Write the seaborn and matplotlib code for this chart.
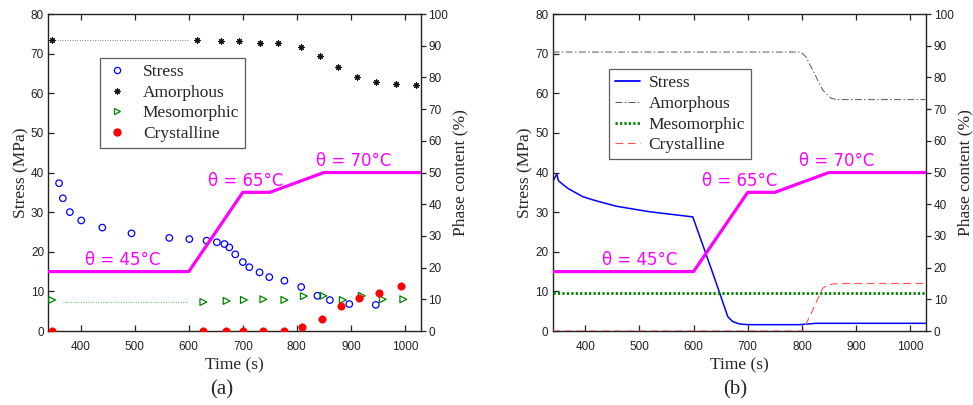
import numpy as np
import pandas as pd
import seaborn as sns
import matplotlib.pyplot as plt
from matplotlib.lines import Line2D

sns.set_style("white")
plt.rcParams['font.family'] = ['Liberation Sans', 'DejaVu Sans']

# ---------------- data: (a) measurements ----------------
stress_t = [360, 367, 380, 401, 440, 494, 564, 601, 633, 652, 666, 675, 686, 700, 712,
            731, 749, 777, 808, 838, 861, 897, 946]
stress_v = [37.3, 33.5, 30.0, 27.9, 26.1, 24.65, 23.5, 23.2, 22.8, 22.4, 21.95, 21.1, 19.35,
            17.4, 16.1, 14.8, 13.6, 12.7, 11.1, 8.9, 7.8, 6.8, 6.6]

amorph_t = [346, 616, 659, 693, 731, 766, 807, 843, 876, 911, 947, 984, 1021]
amorph_v = [91.8, 91.8, 91.5, 91.5, 91.0, 91.0, 89.5, 86.9, 83.4, 80.1, 78.6, 78.0, 77.6]

meso_t = [347, 627, 670, 702, 738, 777, 813, 849, 885, 920, 959, 997]
meso_v = [9.8, 9.15, 9.5, 9.8, 10.0, 9.8, 11.0, 11.1, 9.8, 11.1, 10.0, 10.0]

cryst_t = [347, 626, 669, 701, 738, 776, 809, 846, 881, 915, 952, 992]
cryst_v = [0.1, 0.0, 0.0, 0.0, 0.0, 0.0, 1.4, 3.7, 7.9, 10.3, 12.1, 14.2]

# dotted guides across the unmeasured interval
amorph_gap_t = [346, 598]
amorph_gap_v = [91.8, 91.8]
meso_gap_t = [367, 597]
meso_gap_v = [9.05, 9.05]

# ---------------- data: (b) model ----------------
model_stress_t = [340, 347.6, 350.8, 368, 395.6, 414, 457, 518.7, 598.6, 635.5, 663.3,
                  672.5, 685, 700, 795.6, 826, 1028]
model_stress_v = [37.7, 39.6, 37.9, 36.0, 33.9, 33.1, 31.5, 30.1, 28.8, 14.6, 3.6,
                  2.35, 1.77, 1.6, 1.6, 1.94, 1.94]
model_amorph_t = [340, 798, 807.5, 822.8, 838.3, 853.7, 865, 1028]
model_amorph_v = [88.0, 88.0, 86.5, 81.3, 76.0, 73.4, 73.0, 73.0]
model_meso_t = [340, 1028]
model_meso_v = [12.0, 12.0]
model_cryst_t = [340, 801.4, 819.9, 838.3, 848, 856.8, 870, 1028]
model_cryst_v = [0.0, 0.0, 6.6, 13.5, 14.5, 14.8, 15.0, 15.0]

# ---------------- temperature programme ----------------
temp_t = [340, 600, 700, 750, 850, 1030]
temp_v = [45, 45, 65, 65, 70, 70]
temp_labels_a = [(478, 45, "θ = 45°C"), (706, 65, "θ = 65°C"), (905, 70, "θ = 70°C")]
temp_labels_b = [(500, 45, "θ = 45°C"), (685, 65, "θ = 65°C"), (865, 70, "θ = 70°C")]

SERIF = ['Liberation Serif', 'DejaVu Serif']
MAGENTA = '#FF00FF'
BLUE = '#0000FF'
GREEN = '#008000'
RED = '#FF0000'
LABEL_SIZE = 12.5
TICK_SIZE = 8.5

fig = plt.figure(figsize=(9.73, 4.05), dpi=100)
ax_a = fig.add_axes([0.0496, 0.1827, 0.3827, 0.7827])
ax_b = fig.add_axes([0.5680, 0.1827, 0.3837, 0.7827])


def style_axes(ax):
    ax.set_xlim(340, 1029)
    ax.set_ylim(0, 80)
    ax.set_xticks(range(400, 1001, 100))
    ax.set_yticks(range(0, 81, 10))
    ax.tick_params(direction='in', length=4, width=0.9, labelsize=TICK_SIZE,
                   top=True, right=True, left=True, bottom=True, pad=3,
                   colors='#222222')
    ax.tick_params(axis='x', pad=7)
    for s in ax.spines.values():
        s.set_color('#222222')
        s.set_linewidth(1.0)
    ax.set_xlabel("Time (s)", family=SERIF, fontsize=LABEL_SIZE, labelpad=3)
    ax.set_ylabel("Stress (MPa)", family=SERIF, fontsize=LABEL_SIZE, labelpad=1)
    ph = ax.twinx()
    ph.set_ylim(0, 100)
    ph.set_yticks(range(0, 101, 10))
    ph.tick_params(direction='out', length=3.5, width=0.9, labelsize=TICK_SIZE, pad=2,
                   colors='#222222')
    ph.set_ylabel("Phase content (%)", family=SERIF, fontsize=LABEL_SIZE, labelpad=3)
    for s in ph.spines.values():
        s.set_visible(False)
    th = ax.twinx()
    th.set_ylim(30, 110)
    th.set_axis_off()
    return ph, th


def draw_temperature(th, labels):
    sns.lineplot(x=temp_t, y=temp_v, ax=th, color=MAGENTA, linewidth=2.3,
                 estimator=None, sort=False)
    for t, v, txt in labels:
        th.text(t, v + 0.7, txt, color=MAGENTA, fontsize=12, ha='center', va='bottom',
                family=['DejaVu Sans'])


# ---------------- (a) ----------------
ph_a, th_a = style_axes(ax_a)
sns.scatterplot(x=stress_t, y=stress_v, ax=ax_a, marker='o', s=22,
                facecolors='none', edgecolor=BLUE, linewidth=0.9, zorder=3)
sns.lineplot(x=amorph_gap_t, y=amorph_gap_v, ax=ph_a, color='#555555',
             linestyle=(0, (1, 2)), linewidth=0.6, estimator=None)
sns.lineplot(x=meso_gap_t, y=meso_gap_v, ax=ph_a, color='#22aa22',
             linestyle=(0, (1, 2)), linewidth=0.6, estimator=None)
sns.scatterplot(x=amorph_t, y=amorph_v, ax=ph_a, marker=(8, 2, 0), s=17,
                color='#111111', edgecolor='#111111', linewidth=0.8, zorder=3)
sns.scatterplot(x=meso_t, y=meso_v, ax=ph_a, marker='>', s=24,
                facecolors='none', edgecolor=GREEN, linewidth=0.9, zorder=3)
sns.scatterplot(x=cryst_t, y=cryst_v, ax=ph_a, marker='o', s=28,
                color=RED, edgecolor=RED, linewidth=0.5, zorder=3)
draw_temperature(th_a, temp_labels_a)

handles_a = [
    Line2D([], [], marker='o', linestyle='none', markerfacecolor='none',
           markeredgecolor=BLUE, markersize=4.5, markeredgewidth=0.9),
    Line2D([], [], marker=(8, 2, 0), linestyle='none', color='#111111',
           markersize=4.5, markeredgewidth=0.8),
    Line2D([], [], marker='>', linestyle='none', markerfacecolor='none',
           markeredgecolor=GREEN, markersize=4.5, markeredgewidth=0.9),
    Line2D([], [], marker='o', linestyle='none', color=RED, markersize=5),
]
leg_a = th_a.legend(handles_a, ["Stress", "Amorphous", "Mesomorphic", "Crystalline"],
                    loc='upper left', bbox_to_anchor=(0.140, 0.862),
                    prop={'family': SERIF, 'size': 12.5}, frameon=True, fancybox=False,
                    edgecolor='#333333', handlelength=1.2, handletextpad=0.9,
                    labelspacing=0.26, borderpad=0.35, borderaxespad=0)
leg_a.get_frame().set_linewidth(0.9)

# ---------------- (b) ----------------
ph_b, th_b = style_axes(ax_b)
sns.lineplot(x=model_stress_t, y=model_stress_v, ax=ax_b, color=BLUE, linewidth=1.1,
             estimator=None, sort=False)
sns.lineplot(x=model_amorph_t, y=model_amorph_v, ax=ph_b, color='#555555',
             linestyle=(0, (7, 2.5, 1.5, 2.5)), linewidth=0.7, estimator=None, sort=False)
sns.lineplot(x=model_meso_t, y=model_meso_v, ax=ph_b, color=GREEN,
             linestyle=(0, (0.8, 0.8)), linewidth=2.0, estimator=None, sort=False)
sns.lineplot(x=model_cryst_t, y=model_cryst_v, ax=ph_b, color='#FF5555',
             linestyle=(0, (7, 4)), linewidth=0.8, estimator=None, sort=False)
draw_temperature(th_b, temp_labels_b)

handles_b = [
    Line2D([], [], color=BLUE, linewidth=1.3),
    Line2D([], [], color='#555555', linestyle=(0, (7, 2.5, 1.5, 2.5)), linewidth=0.7),
    Line2D([], [], color=GREEN, linestyle=(0, (0.8, 0.8)), linewidth=2.0),
    Line2D([], [], color='#FF5555', linestyle=(0, (7, 4)), linewidth=0.8),
]
leg_b = th_b.legend(handles_b, ["Stress", "Amorphous", "Mesomorphic", "Crystalline"],
                    loc='upper left', bbox_to_anchor=(0.150, 0.826),
                    prop={'family': SERIF, 'size': 12.5}, frameon=True, fancybox=False,
                    edgecolor='#333333', handlelength=1.45, handletextpad=0.5,
                    labelspacing=0.26, borderpad=0.35, borderaxespad=0)
leg_b.get_frame().set_linewidth(0.9)

# panel captions
fig.text(222 / 973, 1 - 390 / 405, "(a)", family=SERIF, fontsize=15, ha='center', va='center')
fig.text(735 / 973, 1 - 390 / 405, "(b)", family=SERIF, fontsize=15, ha='center', va='center')

fig.savefig("out.png", dpi=100)
